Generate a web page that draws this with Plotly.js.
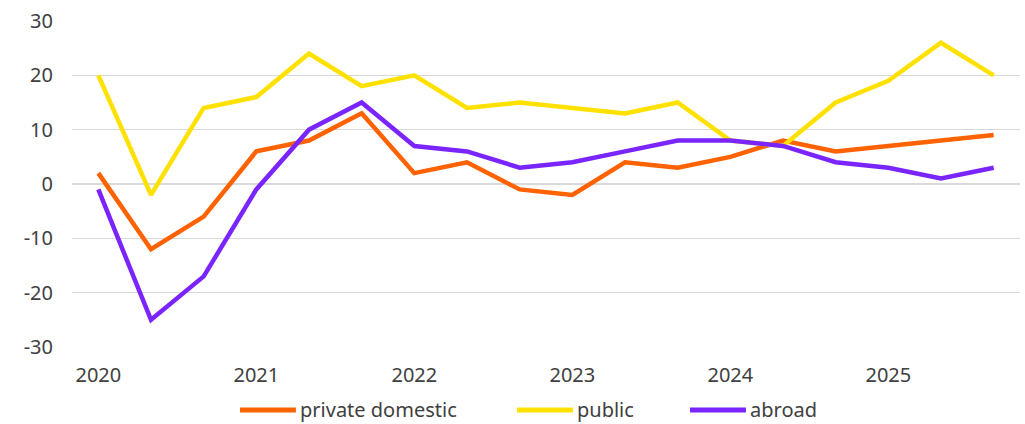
<!DOCTYPE html>
<html>
<head>
<meta charset="utf-8">
<script src="https://cdn.plot.ly/plotly-3.0.1.min.js"></script>
<style>html,body{margin:0;padding:0;background:#fff;}#chart{width:1025px;height:424px;}</style>
</head>
<body>
<div id="chart"></div>
<script>
// Periods (three per year)
var periods = ["2020-1","2020-2","2020-3","2021-1","2021-2","2021-3","2022-1","2022-2","2022-3",
               "2023-1","2023-2","2023-3","2024-1","2024-2","2024-3","2025-1","2025-2","2025-3"];
var tickPeriods = ["2020-1","2021-1","2022-1","2023-1","2024-1","2025-1"];
var tickLabels = ["2020","2021","2022","2023","2024","2025"];
var yTickVals = [-30,-20,-10,0,10,20,30];
var yTickLabels = ["-30","-20","-10","0","10","20","30"];

var privateDomestic = [2,-12,-6,6,8,13,2,4,-1,-2,4,3,5,8,6,7,8,9];
var publicSeries    = [20,-2,14,16,24,18,20,14,15,14,13,15,8,7,15,19,26,20];
var abroad          = [-1,-25,-17,-1,10,15,7,6,3,4,6,8,8,7,4,3,1,3];

var seriesNames = ["private domestic","public","abroad"];
var seriesColors = ["#FF6200","#FFE100","#7A24FF"];
var seriesData = [privateDomestic, publicSeries, abroad];

var traces = seriesData.map(function(d,i){
  return {x: periods, y: d, type:'scatter', mode:'lines', name: seriesNames[i],
          line:{color: seriesColors[i], width:4.5}, showlegend:false};
});

// Manual legend (paper coordinates)
var legX = [0.1772, 0.4694, 0.6519];
var legLen = 0.059;
var legY = -0.193;
var shapes = [], annotations = [];
seriesNames.forEach(function(n,i){
  shapes.push({type:'line', xref:'paper', yref:'paper', x0:legX[i], x1:legX[i]+legLen, y0:legY, y1:legY,
               line:{color:seriesColors[i], width:5}});
  annotations.push({xref:'paper', yref:'paper', x:legX[i]+legLen+0.002, y:legY, xanchor:'left', yanchor:'middle',
                    text:n, showarrow:false, font:{size:20, color:'#404040'}});
});

var layout = {
  width:1025, height:424,
  margin:{l:72, r:5, t:21, b:77},
  paper_bgcolor:'#fff', plot_bgcolor:'#fff',
  font:{family:'"Noto Sans", "Open Sans", sans-serif', size:20, color:'#404040'},
  xaxis:{type:'category', tickmode:'array', tickvals: tickPeriods, ticktext: tickLabels,
         showgrid:false, zeroline:false, showline:false, ticks:'', range:[-0.5,17.5],
         ticklabelstandoff:14, automargin:false},
  yaxis:{range:[-30,30], tickmode:'array', tickvals:yTickVals, ticktext:yTickLabels, showgrid:true, gridcolor:'#d9d9d9',
         gridwidth:1.5, zeroline:false, showline:false, ticks:'', ticklabelstandoff:18, automargin:false},
  showlegend:false,
  shapes: shapes,
  annotations: annotations
};

Plotly.newPlot('chart', traces, layout, {displayModeBar:false, staticPlot:true});
</script>
</body>
</html>
